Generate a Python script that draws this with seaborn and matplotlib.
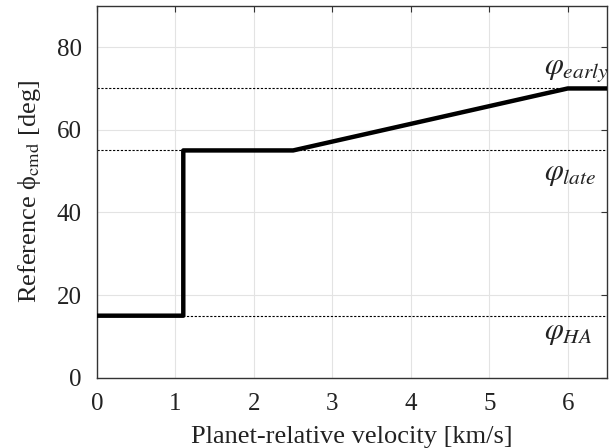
import matplotlib
matplotlib.use("Agg")
import matplotlib.pyplot as plt
import seaborn as sns
import pandas as pd

# data
velocity = [0.0, 1.1, 1.1, 2.5, 6.0, 6.5]
phi_cmd = [15, 15, 55, 55, 70, 70]
ref_levels = [70, 55, 15]
ref_labels = [r"$\varphi_{early}$", r"$\varphi_{late}$", r"$\varphi_{HA}$"]
label_y = [74.5, 49.5, 11]
x_ticks = [0, 1, 2, 3, 4, 5, 6]
y_ticks = [0, 20, 40, 60, 80]

sns.set_theme(style="whitegrid")
plt.rcParams['font.family'] = ['Liberation Serif', 'DejaVu Serif']
plt.rcParams['mathtext.fontset'] = 'stix'

df = pd.DataFrame({"v": velocity, "phi": phi_cmd})

fig, ax = plt.subplots(figsize=(6.1, 4.48), dpi=100)
fig.subplots_adjust(left=0.159, right=0.995, top=0.987, bottom=0.157)

for lvl in ref_levels:
    ax.axhline(lvl, color="black", lw=0.8, ls=(0, (2, 1.5)), zorder=2)

sns.lineplot(data=df, x="v", y="phi", sort=False, estimator=None, errorbar=None,
             color="black", lw=3.2, ax=ax, zorder=3)

for lab, ly in zip(ref_labels, label_y):
    ax.text(5.7, ly, lab, fontsize=22, ha="left", va="center", color="#222222")

ax.set_xlim(0, 6.5)
ax.set_ylim(0, 90)
ax.set_xticks(x_ticks)
ax.set_yticks(y_ticks)
ax.grid(True, color="#e3e3e3", lw=0.8)
ax.set_facecolor("white")
for s in ax.spines.values():
    s.set_color("#333333")
    s.set_linewidth(1.0)
ax.tick_params(direction="in", length=4, width=0.8, top=True, right=True,
               labelsize=18, colors="#222222", pad=11)
ax.tick_params(axis="both", which="both", color="#333333")
ax.set_xlabel("Planet-relative velocity [km/s]", fontsize=19, color="#222222", labelpad=8)
ax.set_ylabel("Reference ϕ$_{\\mathrm{cmd}}$ [deg]", fontsize=19, color="#222222", labelpad=10)

fig.savefig("out.png", dpi=100)
